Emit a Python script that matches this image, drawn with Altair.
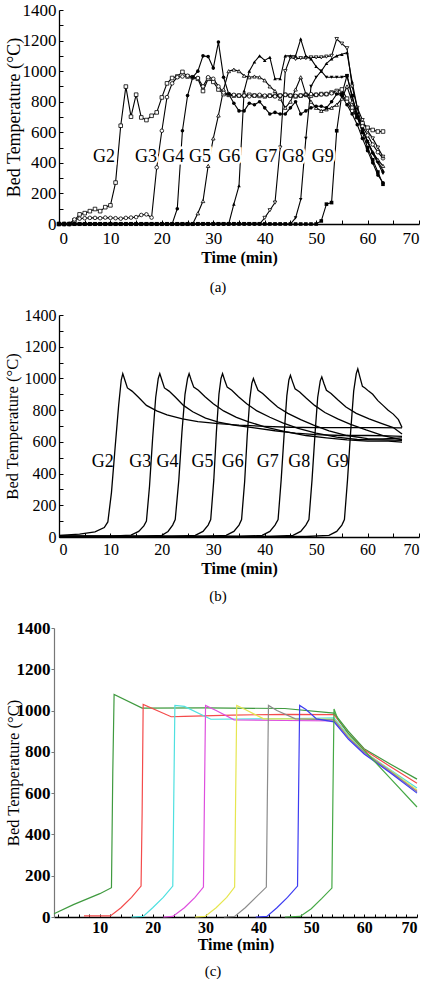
import altair as alt
import pandas as pd

SERIF = "Liberation Serif, Times New Roman, Times, serif"
SERIES = ["G2", "G3", "G4", "G5", "G6", "G7", "G8", "G9"]

# ---------------- (a) measured bed temperature, one reading per minute ----------------
minutes_a = list(range(64))
a_g2 = [0, 0, 0, 24, 63, 71, 84, 98, 84, 110, 122, 271, 643, 899, 702, 846, 697, 680, 708, 730,
        828, 920, 955, 965, 995, 965, 960, 950, 870, 950, 930, 880, 850, 845, 840, 840,
        840, 845, 840, 838, 835, 840, 838, 840, 845, 840, 835, 840,
        845, 840, 845, 850, 850, 860, 870, 880, 820, 760, 700, 660, 630, 615, 605, 605]
a_g3 = [0, 0, 0, 30, 35, 38, 40, 40, 38, 42, 40, 38, 35, 40, 42, 45, 59, 63, 42,
        370, 610, 830, 920, 960, 965, 970, 960, 955, 900, 960, 950, 900, 860, 850, 845,
        840, 840, 835, 840, 845, 840, 838, 835, 840, 845, 840, 838,
        840, 845, 850, 845, 848, 850, 855, 860, 850, 800, 740, 700, 640, 580, 520, 470, 430]
a_g4 = [0] * 23 + [100, 610, 840, 960, 1000, 1100, 1095, 1020, 1190, 960, 850, 790, 740, 740, 790, 780,
                   800, 760, 720, 730, 720, 720, 760, 800, 720, 740, 760, 770, 770, 760, 800, 850,
                   840, 780, 720, 650, 560, 480, 400, 320, 270]
a_g5 = [0] * 27 + [70, 150, 380, 560, 710, 880, 1000, 1010, 1000, 970, 960, 965, 960, 940, 900, 870,
                   820, 760, 800, 880, 960, 850, 800, 760, 740, 750, 760, 780, 820, 900,
                   800, 700, 620, 540, 470, 420, 380]
a_g6 = [0] * 34 + [130, 250, 870, 1000, 1060, 1100, 1070, 1090, 950, 950, 1100, 1100, 1100, 1210, 1100, 1080,
                   1030, 1000, 1050, 1080, 1100, 1110, 1120, 930, 760, 620, 540, 470, 410, 350]
a_g7 = [0] * 40 + [40, 90, 140, 500, 1000, 1090, 1080, 1085, 1085, 1090, 1090, 1090, 1095,
                   1100, 1210, 1180, 1150, 900, 760, 680, 610, 560, 500, 440]
a_g8 = [0] * 46 + [40, 160, 560, 900, 960, 1000, 960, 960, 960, 960, 970, 830, 720, 620, 540, 460, 400, 330]
a_g9 = [0] * 51 + [20, 130, 140, 610, 850, 970, 840, 700, 600, 500, 420, 340, 260]
a_values = [a_g2, a_g3, a_g4, a_g5, a_g6, a_g7, a_g8, a_g9]

label_t_a = [8.75, 16.9, 22.2, 27.4, 33.1, 40.3, 45.5, 51.3]
label_T_a = [440, 440, 440, 440, 440, 440, 440, 440]

# ---------------- (b) simulated bed temperature ----------------
b_g2_t = [0, 4, 7, 8.8, 9.5, 10.2, 10.9, 11.6, 12.1, 12.4, 12.8, 13.3, 14.2, 15.5, 17, 19, 21, 24, 27, 31,
          35, 40, 45, 50, 56, 62, 66.7]
b_g2_v = [10, 18, 32, 60, 95, 280, 560, 830, 990, 1030, 990, 940, 920, 880, 830, 795, 770, 745, 728, 715,
          705, 698, 692, 690, 690, 690, 688]
b_g3_t = [0, 10, 14, 15.5, 16.5, 17.0, 17.6, 18.2, 18.8, 19.3, 19.6, 20.0, 20.5, 21.4, 22.7, 24.2, 26, 28.5,
          31, 34, 38, 42, 46, 50, 55, 60, 64, 66.7]
b_g3_v = [5, 5, 12, 35, 70, 100, 320, 620, 880, 1000, 1030, 990, 940, 920, 880, 830, 790, 750,
          725, 705, 688, 670, 655, 645, 640, 640, 638, 635]
b_g4_t = [0, 16, 20, 21.2, 22.1, 22.6, 23.3, 23.9, 24.5, 25.0, 25.3, 25.7, 26.2, 27.1, 28.4, 30, 32, 34.5,
          37, 40, 44, 48, 52, 56, 60, 64, 66.7]
b_g4_v = [3, 3, 10, 35, 75, 110, 360, 660, 900, 1000, 1030, 990, 945, 925, 885, 840, 795, 755,
          725, 695, 665, 640, 625, 612, 605, 605, 598]
b_g5_t = [0, 22, 26.5, 28, 29, 29.5, 30.1, 30.6, 31.1, 31.5, 31.8, 32.2, 32.7, 33.6, 34.9, 36.5, 38.5, 41,
          43.5, 46.5, 50, 54, 58, 62, 66.7]
b_g5_v = [3, 3, 10, 35, 75, 110, 360, 660, 900, 1000, 1030, 990, 945, 925, 885, 840, 795, 755,
          720, 685, 655, 630, 615, 612, 610]
b_g6_t = [0, 28, 32.5, 34, 35, 35.5, 36.1, 36.6, 37.1, 37.5, 37.8, 38.2, 38.7, 39.6, 40.9, 42.5, 44.5, 47,
          49.5, 52.5, 56, 60, 63, 66.7]
b_g6_v = [3, 3, 10, 35, 75, 110, 350, 640, 870, 970, 1000, 965, 925, 905, 865, 820, 780, 740,
          705, 670, 640, 620, 618, 625]
b_g7_t = [0, 35, 39.5, 41, 42, 42.6, 43.2, 43.8, 44.3, 44.7, 45.0, 45.4, 45.9, 46.8, 48.1, 49.7, 51.7, 54.2,
          56.7, 59.7, 63, 66.7]
b_g7_v = [3, 3, 10, 35, 75, 110, 360, 660, 890, 990, 1020, 980, 935, 915, 875, 830, 785, 745,
          710, 675, 640, 612]
b_g8_t = [0, 41, 45.5, 47, 48, 48.6, 49.2, 49.8, 50.3, 50.8, 51.1, 51.5, 52.0, 52.9, 54.2, 55.8, 57.8, 60.3,
          62.8, 65, 66.7]
b_g8_v = [3, 3, 10, 35, 75, 110, 360, 660, 880, 985, 1010, 970, 925, 905, 865, 820, 780, 745,
          715, 690, 650]
b_g9_t = [0, 48, 52.5, 54, 55, 55.5, 56.1, 56.7, 57.3, 57.8, 58.1, 58.5, 59.0, 59.5, 60.2, 61, 62, 63,
          64, 65, 66, 66.7]
b_g9_v = [3, 3, 10, 35, 75, 110, 360, 660, 920, 1030, 1060, 1010, 950, 940, 920, 900, 860, 830,
          800, 775, 740, 690]
b_times = [b_g2_t, b_g3_t, b_g4_t, b_g5_t, b_g6_t, b_g7_t, b_g8_t, b_g9_t]
b_values = [b_g2_v, b_g3_v, b_g4_v, b_g5_v, b_g6_v, b_g7_v, b_g8_v, b_g9_v]

label_t_b = [8.5, 15.8, 21.1, 27.9, 33.8, 40.6, 46.7, 54.2]
label_T_b = [472, 472, 472, 472, 472, 472, 472, 472]

# ---------------- (c) model predictions ----------------
c_g2_t = [1.33, 5, 10, 12.2, 12.45, 12.7, 18, 30, 45, 54.3, 57, 60, 65, 70]
c_g2_v = [16, 60, 113, 142, 700, 1078, 1012, 1013, 1010, 988, 900, 815, 740, 668]
c_g3_t = [7, 12.0, 14, 16, 17.8, 18.0, 18.2, 23.5, 26, 35, 45, 54.3, 57, 60, 65, 70]
c_g3_v = [5, 5, 45, 95, 150, 500, 1030, 970, 972, 978, 982, 980, 890, 810, 728, 648]
c_g4_t = [16, 18.2, 20, 22, 23.8, 24.0, 24.2, 26, 31, 40, 50, 54.3, 57, 60, 65, 70]
c_g4_v = [0, 3, 45, 95, 150, 600, 1025, 1020, 958, 960, 962, 965, 880, 800, 712, 625]
c_g5_t = [22, 23.8, 26, 28, 29.6, 29.8, 30.0, 32, 35.4, 45, 54.3, 57, 60, 65, 70]
c_g5_v = [0, 3, 45, 95, 145, 600, 1025, 1000, 955, 952, 950, 870, 795, 700, 610]
c_g6_t = [28, 29.9, 32, 34, 35.5, 35.7, 35.9, 37.5, 41, 50, 54.3, 57, 60, 65, 70]
c_g6_v = [0, 3, 45, 95, 145, 600, 1025, 1005, 960, 960, 958, 875, 800, 708, 615]
c_g7_t = [33.5, 35.5, 37.5, 39.5, 41.5, 41.7, 41.9, 43.5, 47, 54.3, 57, 60, 65, 70]
c_g7_v = [0, 3, 45, 95, 145, 600, 1025, 1000, 960, 955, 870, 798, 705, 607]
c_g8_t = [39.5, 41.6, 43.5, 45.5, 47.4, 47.6, 47.8, 49, 51, 54.3, 57, 60, 65, 70]
c_g8_v = [0, 3, 45, 95, 150, 600, 1025, 1005, 960, 945, 862, 790, 698, 600]
c_g9_t = [45, 47.9, 50, 52, 53.9, 54.1, 54.3, 55, 57, 60.1, 65, 70]
c_g9_v = [0, 3, 40, 90, 140, 600, 1008, 960, 890, 805, 670, 533]
c_times = [c_g2_t, c_g3_t, c_g4_t, c_g5_t, c_g6_t, c_g7_t, c_g8_t, c_g9_t]
c_values = [c_g2_v, c_g3_v, c_g4_v, c_g5_v, c_g6_v, c_g7_v, c_g8_v, c_g9_v]
c_colors = ["#3f9a3f", "#f44b4b", "#4fe0e0", "#de4fde", "#e6e64f", "#8c8c8c", "#3d3df2", "#45a845"]

# marker style per series in (a)
shapes_a = ["square", "circle", "circle", "triangle-up", "triangle-up", "triangle-down", "triangle-down", "square"]
open_series = ["G2", "G3", "G5", "G7"]


def long_table(times_list, values_list):
    rows = []
    for name, ts, vs in zip(SERIES, times_list, values_list):
        for k, (t, v) in enumerate(zip(ts, vs)):
            rows.append({"series": name, "t": t, "T": v, "k": k})
    return pd.DataFrame(rows)


df_a = long_table([minutes_a] * 8, a_values)
df_b = long_table(b_times, b_values)
df_c = long_table(c_times, c_values)
lab_a = pd.DataFrame({"series": SERIES, "t": label_t_a, "T": label_T_a})
lab_b = pd.DataFrame({"series": SERIES, "t": label_t_b, "T": label_T_b})


def main_x_axis(values, size, pad, title_y, color="black", width=1.3, weight="normal", offset=0):
    return alt.Axis(orient="bottom", values=values, format="d", ticks=False, grid=False, labelOverlap=False,
                    labelFont=SERIF, labelFontSize=size, labelFontWeight=weight, labelColor="black",
                    labelPadding=pad, domainColor=color, domainWidth=width, offset=offset,
                    title="Time (min)", titleFont=SERIF, titleFontSize=16, titleFontWeight="bold",
                    titleColor="black", titleY=title_y, titleBaseline="middle")


def main_y_axis(size, pad, title_x, title_size, color="black", width=1.3, weight="normal", offset=0,
                ticks=False):
    return alt.Axis(orient="left", values=list(range(0, 1401, 200)), format="d", ticks=ticks, tickSize=3,
                    tickColor=color, grid=False, labelOverlap=False,
                    labelFont=SERIF, labelFontSize=size, labelFontWeight=weight, labelColor="black",
                    labelPadding=pad, domainColor=color, domainWidth=width, offset=offset,
                    title="Bed Temperature (°C)", titleFont=SERIF, titleFontSize=title_size,
                    titleFontWeight="normal", titleColor="black", titleX=title_x, titleBaseline="middle")


def inner_ticks(orient, values, size, offset=0, color="black"):
    # short ticks drawn on the plot side of the axis line
    return alt.Axis(orient=orient, values=values, labels=False, domain=False, grid=False, ticks=True,
                    tickSize=size, tickColor=color, tickWidth=1, offset=offset - size, title=None)


def caption(text, x, y):
    return alt.Chart(pd.DataFrame({"c": [text]})).mark_text(
        font=SERIF, fontSize=15, color="black").encode(x=alt.value(x), y=alt.value(y), text="c:N")


def group_labels(df, halo):
    layers = []
    enc = dict(x=alt.X("t:Q", axis=None), y=alt.Y("T:Q", axis=None), text="series:N")
    if halo:
        layers.append(alt.Chart(df).mark_text(font=SERIF, fontSize=18, color="white", stroke="white",
                                              strokeWidth=5).encode(**enc))
    layers.append(alt.Chart(df).mark_text(font=SERIF, fontSize=18, color="black").encode(**enc))
    return layers


ys = alt.Scale(domain=[0, 1400], nice=False, zero=False)
xs_ab = alt.Scale(domain=[0, 70], nice=False, zero=False)
x_vals = list(range(0, 71, 10))

# ---------------- panel (a) ----------------
base_a = alt.Chart(df_a)
lines_a = base_a.mark_line(color="black", strokeWidth=1.1).encode(
    x=alt.X("t:Q", scale=xs_ab, axis=main_x_axis(x_vals, 17, 6, 33)),
    y=alt.Y("T:Q", scale=ys, axis=main_y_axis(17, 3, -44.5, 18)),
    detail="series:N", order="k:Q")
shape_enc = alt.Shape("series:N", scale=alt.Scale(domain=SERIES, range=shapes_a), legend=None)
open_a = base_a.transform_filter(
    alt.FieldOneOfPredicate(field="series", oneOf=open_series)
).mark_point(filled=True, fill="white", stroke="black", strokeWidth=0.8, size=13, opacity=1).encode(
    x=alt.X("t:Q", axis=None), y=alt.Y("T:Q", axis=None), shape=shape_enc)
solid_a = base_a.transform_filter(
    ~alt.FieldOneOfPredicate(field="series", oneOf=open_series)
).mark_point(filled=True, color="black", size=13, opacity=1).encode(
    x=alt.X("t:Q", axis=None), y=alt.Y("T:Q", axis=None), shape=shape_enc)
ticks_a = base_a.mark_point(opacity=0).encode(
    x=alt.X("t:Q", axis=inner_ticks("bottom", list(range(0, 71, 5)), 4)),
    y=alt.Y("T:Q", axis=inner_ticks("left", list(range(0, 1401, 100)), 4)))
panel_a = alt.layer(
    lines_a, open_a, solid_a, ticks_a, *group_labels(lab_a, True), caption("(a)", 159, 277)
).resolve_axis(x="independent", y="independent").properties(width=360, height=214)

# ---------------- panel (b) ----------------
base_b = alt.Chart(df_b)
lines_b = base_b.mark_line(color="black", strokeWidth=1.3).encode(
    x=alt.X("t:Q", scale=xs_ab, axis=main_x_axis(x_vals, 16, 4, 31)),
    y=alt.Y("T:Q", scale=ys, axis=main_y_axis(16, 3, -47, 16.5)),
    detail="series:N", order="k:Q")
ticks_b = base_b.mark_point(opacity=0).encode(
    x=alt.X("t:Q", axis=inner_ticks("bottom", list(range(0, 71, 5)), 4)),
    y=alt.Y("T:Q", axis=inner_ticks("left", list(range(0, 1401, 100)), 4)))
panel_b = alt.layer(
    lines_b, ticks_b, *group_labels(lab_b, False), caption("(b)", 159, 281)
).resolve_axis(x="independent", y="independent").properties(width=360, height=222)

# ---------------- panel (c) ----------------
xs_c = alt.Scale(domain=[1.33, 70], range=[-5, 358], nice=False, zero=False)
base_c = alt.Chart(df_c)
lines_c = base_c.mark_line(strokeWidth=1.2).encode(
    x=alt.X("t:Q", scale=xs_c, axis=main_x_axis(list(range(10, 71, 10)), 16, 2, 27, width=1.4,
                                                 weight="bold")),
    y=alt.Y("T:Q", scale=ys, axis=main_y_axis(17, 1, -41, 16.5, color="#777777", width=1.2,
                                              weight="bold", offset=5, ticks=True)),
    color=alt.Color("series:N", scale=alt.Scale(domain=SERIES, range=c_colors), legend=None),
    detail="series:N", order="k:Q")
ticks_c = base_c.mark_point(opacity=0).encode(
    x=alt.X("t:Q", axis=inner_ticks("bottom", list(range(2, 71, 2)), 3)))
panel_c = alt.layer(
    lines_c, ticks_c, caption("(c)", 154, 343)
).resolve_axis(x="independent", y="independent").properties(width=360, height=289)

chart = alt.vconcat(panel_a, panel_b, panel_c, spacing=91, bounds="flush").properties(
    padding={"left": 3, "top": 1, "right": 0, "bottom": 0}, background="white"
).configure_view(stroke=None)

chart.save("out.html", embed_options={"renderer": "svg", "actions": False})
